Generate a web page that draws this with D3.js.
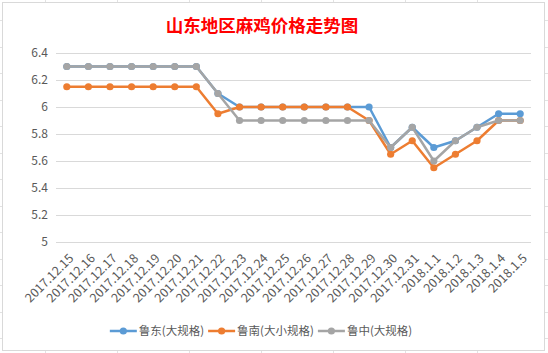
<!DOCTYPE html>
<html>
<head>
<meta charset="utf-8">
<script src="https://cdn.jsdelivr.net/npm/d3@7"></script>
<style>
  body { margin: 0; background: #fff; }
  text { font-family: "Noto Sans CJK SC", "Noto Sans", sans-serif; }
</style>
</head>
<body>
<svg id="chart" width="548" height="353"></svg>
<script>
const dates = ["2017.12.15", "2017.12.16", "2017.12.17", "2017.12.18", "2017.12.19", "2017.12.20",
    "2017.12.21", "2017.12.22", "2017.12.23", "2017.12.24", "2017.12.25", "2017.12.26",
    "2017.12.27", "2017.12.28", "2017.12.29", "2017.12.30", "2017.12.31", "2018.1.1",
    "2018.1.2", "2018.1.3", "2018.1.4", "2018.1.5"];

const ludong = [6.3, 6.3, 6.3, 6.3, 6.3, 6.3, 6.3, 6.1, 6.0, 6.0, 6.0, 6.0, 6.0, 6.0, 6.0, 5.7, 5.85, 5.7, 5.75, 5.85, 5.95, 5.95];
const lunan = [6.15, 6.15, 6.15, 6.15, 6.15, 6.15, 6.15, 5.95, 6.0, 6.0, 6.0, 6.0, 6.0, 6.0, 5.9, 5.65, 5.75, 5.55, 5.65, 5.75, 5.9, 5.9];
const luzhong = [6.3, 6.3, 6.3, 6.3, 6.3, 6.3, 6.3, 6.1, 5.9, 5.9, 5.9, 5.9, 5.9, 5.9, 5.9, 5.7, 5.85, 5.6, 5.75, 5.85, 5.9, 5.9];

const seriesNames = ["鲁东(大规格)", "鲁南(大小规格)", "鲁中(大规格)"];
const seriesColors = ["#5B9BD5", "#ED7D31", "#A5A5A5"];
const yTicks = [5, 5.2, 5.4, 5.6, 5.8, 6, 6.2, 6.4];

const series = [ludong, lunan, luzhong].map((values, i) => ({
    name: seriesNames[i],
    color: seriesColors[i],
    values: values.map((v, j) => ({ date: dates[j], value: v }))
}));

const svg = d3.select("#chart");

// spreadsheet cell lines peeking out around the chart object
const sheet = svg.append("g").attr("stroke", "#e2e2e2").attr("stroke-width", 1);
d3.range(45, 548, 72).forEach(x => {
    sheet.append("line").attr("x1", x + 0.5).attr("x2", x + 0.5).attr("y1", 0).attr("y2", 2);
    sheet.append("line").attr("x1", x + 0.5).attr("x2", x + 0.5).attr("y1", 351).attr("y2", 353);
});
d3.range(20, 353, 26.5).forEach(y => {
    sheet.append("line").attr("x1", 0).attr("x2", 2).attr("y1", Math.round(y) + 0.5).attr("y2", Math.round(y) + 0.5);
    sheet.append("line").attr("x1", 545).attr("x2", 548).attr("y1", Math.round(y) + 0.5).attr("y2", Math.round(y) + 0.5);
});

svg.append("rect")
    .attr("x", 2.5).attr("y", 2.5)
    .attr("width", 542).attr("height", 348)
    .attr("fill", "#fff")
    .attr("stroke", "#d9d9d9");

svg.append("text")
    .attr("x", 262).attr("y", 32)
    .attr("text-anchor", "middle")
    .attr("fill", "#ff0000")
    .attr("font-size", 17.5)
    .attr("font-weight", "bold")
    .text("山东地区麻鸡价格走势图");

const plot = { left: 56, right: 531, top: 53, bottom: 242 };

const scaleX = d3.scalePoint()
    .domain(dates)
    .range([plot.left, plot.right])
    .padding(0.5);

const scaleY = d3.scaleLinear()
    .domain([5, 6.4])
    .range([plot.bottom, plot.top]);

const axisY = d3.axisLeft(scaleY)
    .tickValues(yTicks)
    .tickFormat(d => d3.format("")(+d.toFixed(1)))
    .tickSize(-(plot.right - plot.left))
    .tickPadding(8);

const gY = svg.append("g")
    .attr("transform", `translate(${plot.left}, 0)`)
    .call(axisY);
gY.select(".domain").remove();
gY.selectAll(".tick line").attr("stroke", "#d9d9d9");
gY.selectAll(".tick text")
    .attr("fill", "#595959")
    .attr("font-size", 12)
    .attr("x", -8);

const axisX = d3.axisBottom(scaleX).tickSize(0);
const gX = svg.append("g")
    .attr("transform", `translate(0, ${plot.bottom})`)
    .call(axisX);
gX.select(".domain").remove();
gX.selectAll(".tick text")
    .attr("fill", "#595959")
    .attr("font-size", 12.5)
    .attr("text-anchor", "end")
    .attr("x", 0).attr("y", 0).attr("dy", "0.35em")
    .attr("transform", "translate(4, 14) rotate(-45)");

const line = d3.line()
    .x(d => scaleX(d.date))
    .y(d => scaleY(d.value));

series.forEach(s => {
    const g = svg.append("g");
    g.append("path")
        .datum(s.values)
        .attr("fill", "none")
        .attr("stroke", s.color)
        .attr("stroke-width", 2.5)
        .attr("stroke-linejoin", "round")
        .attr("d", line);
    g.selectAll("circle")
        .data(s.values)
        .enter()
        .append("circle")
        .attr("cx", d => scaleX(d.date))
        .attr("cy", d => scaleY(d.value))
        .attr("r", 3.6)
        .attr("fill", s.color);
});

// legend
const legend = svg.append("g");
let lx = 0;
series.forEach(s => {
    const item = legend.append("g").attr("transform", `translate(${lx}, 0)`);
    item.append("line")
        .attr("x1", 0).attr("x2", 27)
        .attr("y1", 0).attr("y2", 0)
        .attr("stroke", s.color).attr("stroke-width", 2.5);
    item.append("circle").attr("cx", 13.5).attr("cy", 0).attr("r", 3.6).attr("fill", s.color);
    const t = item.append("text")
        .attr("x", 29).attr("dy", "0.35em")
        .attr("fill", "#595959")
        .attr("font-size", 11.5)
        .text(s.name);
    lx += 29 + t.node().getComputedTextLength() + 4;
});
const legendWidth = lx - 4;
legend.attr("transform", `translate(${261 - legendWidth / 2}, 331)`);
</script>
</body>
</html>
